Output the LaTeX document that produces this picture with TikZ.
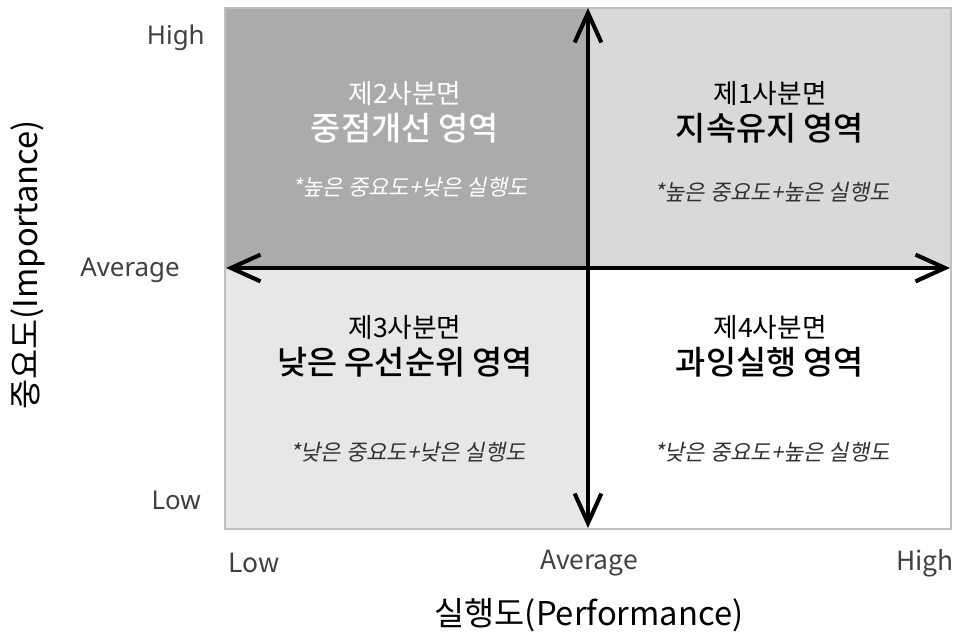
\documentclass[tikz,border=0pt]{standalone}
\usepackage{fontspec}
\setmainfont{Noto Sans CJK KR}
\newfontfamily\latinfont{Noto Sans}
\newfontfamily\areafont{Noto Sans CJK KR Medium}
\newfontfamily\notefont[FakeSlant=0.2]{Noto Sans CJK KR}
\usetikzlibrary{arrows.meta}
\definecolor{darkq}{HTML}{ABABAB}
\definecolor{midq}{HTML}{D9D9D9}
\definecolor{lightq}{HTML}{E7E7E7}
\definecolor{edgegray}{HTML}{BFBFBF}
\begin{document}
\begin{tikzpicture}[x=0.025cm,y=-0.025cm,every node/.style={inner sep=0pt},
	quad/.style={font=\fontsize{19}{21}\selectfont},
	area/.style={font=\areafont\fontsize{23.3}{25}\selectfont},
	note/.style={font=\notefont\fontsize{15.7}{17}\selectfont,text=black!80},
	tickl/.style={font=\latinfont\fontsize{18.4}{20}\selectfont,text=black!75},
	tickb/.style={font=\fontsize{18.8}{20}\selectfont,text=black!75},
	title/.style={font=\fontsize{23.3}{25}\selectfont},
	axis/.style={line width=2.9pt,{Straight Barb[length=21pt,width=19pt]}-{Straight Barb[length=21pt,width=19pt]}}]
	\useasboundingbox (0,0) rectangle (955,639);
	% quadrants
	\fill[darkq] (225,8) rectangle (588,268);
	\fill[midq] (588,8) rectangle (951,268);
	\fill[lightq] (225,268) rectangle (588,529);
	\draw[edgegray,line width=1.4pt] (225,8) rectangle (951,529);
	% \draw[gray] (588,8)--(588,529);
	\node[quad,text=white] (q2a) at (405,93){제2사분면};
	\node[area,text=white] (q2b) at (405,128){중점개선 영역};
	\node[note,text=white] (q2c) at (410,187){*높은 중요도+낮은 실행도};
	\node[quad] (q1a) at (770,93){제1사분면};
	\node[area] (q1b) at (770,128){지속유지 영역};
	\node[note] (q1c) at (772,192){*높은 중요도+높은 실행도};
	\node[quad] (q3a) at (405,327){제3사분면};
	\node[area] (q3b) at (405,362){낮은 우선순위 영역};
	\node[note] (q3c) at (408,452){*낮은 중요도+낮은 실행도};
	\node[quad] (q4a) at (770,327){제4사분면};
	\node[area] (q4b) at (770,362){과잉실행 영역};
	\node[note] (q4c) at (772,452){*낮은 중요도+높은 실행도};
	% axes
	\coordinate (left) at (226,268);
	\coordinate (right) at (950,268);
	\coordinate (top) at (588,8);
	\coordinate (bottom) at (588,528);
	\draw[axis] (left)--(right);
	\draw[axis] (top)--(bottom);
	% scale labels
	\node[tickl,anchor=east] (yh) at (205,38){High};
	\node[tickl,anchor=east] (ya) at (180,270){Average};
	\node[tickl,anchor=east] (yl) at (201,500){Low};
	\node[tickb] (xl) at (254,563){Low};
	\node[tickb] (xa) at (589,563){Average};
	\node[tickb] (xh) at (925,563){High};
	\node[title,rotate=90] (ytitle) at (28,265){중요도(Importance)};
	\node[title] (xtitle) at (589,615){실행도(Performance)};
\end{tikzpicture}
\end{document}
